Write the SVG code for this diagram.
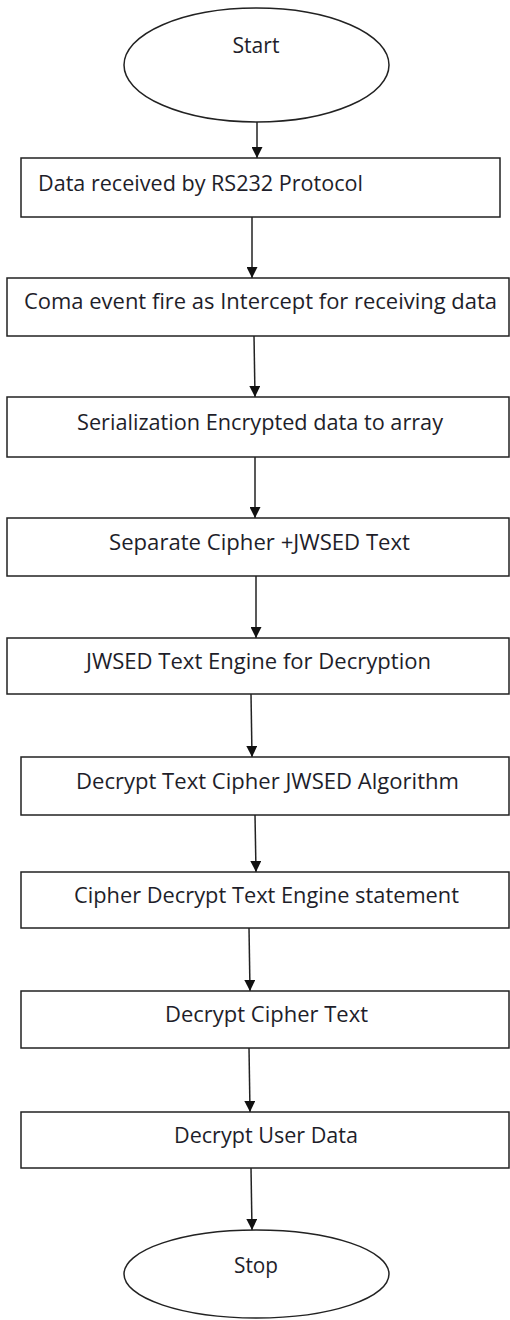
<svg xmlns="http://www.w3.org/2000/svg" width="510" height="1320" viewBox="0 0 510 1320">
<style>
.n{fill:#fff;stroke:#222;stroke-width:1.5}
.t{font-family:"Open Sans","Liberation Sans",sans-serif;font-size:21px;fill:#1e1e2a}
.c{stroke:#222;stroke-width:1.5;fill:none;marker-end:url(#ah)}
</style>
<defs>
<marker id="ah" viewBox="0 0 10 10" refX="10" refY="5" markerWidth="11" markerHeight="11" markerUnits="userSpaceOnUse" orient="auto">
<path d="M0,0 L10,5 L0,10 z" fill="#111"/>
</marker>
</defs>
<rect width="510" height="1320" fill="#fff"/>
<g id="connectors">
<line class="c" x1="257" y1="122" x2="257" y2="158"/>
<line class="c" x1="252" y1="217" x2="252" y2="278"/>
<line class="c" x1="254" y1="336" x2="255" y2="397"/>
<line class="c" x1="255" y1="457" x2="255" y2="518"/>
<line class="c" x1="256" y1="576" x2="256" y2="638"/>
<line class="c" x1="251" y1="694" x2="252" y2="757"/>
<line class="c" x1="255" y1="815" x2="256" y2="872"/>
<line class="c" x1="249" y1="928" x2="250" y2="991"/>
<line class="c" x1="249" y1="1048" x2="250" y2="1112"/>
<line class="c" x1="251" y1="1168" x2="252" y2="1230"/>
</g>
<g id="start">
<ellipse class="n" cx="256.5" cy="65" rx="132.5" ry="57"/>
<text class="t" x="256" y="53" text-anchor="middle" textLength="47" lengthAdjust="spacingAndGlyphs">Start</text>
</g>
<g id="n1">
<rect class="n" x="21" y="158" width="479" height="59"/>
<text class="t" x="38" y="191" textLength="325" lengthAdjust="spacingAndGlyphs">Data received by RS232 Protocol</text>
</g>
<g id="n2">
<rect class="n" x="7" y="278" width="502" height="58"/>
<text class="t" x="24" y="309" textLength="473" lengthAdjust="spacingAndGlyphs">Coma event fire as Intercept for receiving data</text>
</g>
<g id="n3">
<rect class="n" x="7" y="397" width="502" height="60"/>
<text class="t" x="77" y="430" textLength="366" lengthAdjust="spacingAndGlyphs">Serialization Encrypted data to array</text>
</g>
<g id="n4">
<rect class="n" x="7" y="518" width="502" height="58"/>
<text class="t" x="109" y="550" textLength="301" lengthAdjust="spacingAndGlyphs">Separate Cipher +JWSED Text</text>
</g>
<g id="n5">
<rect class="n" x="7" y="638" width="502" height="56"/>
<text class="t" x="86" y="669" textLength="345" lengthAdjust="spacingAndGlyphs">JWSED Text Engine for Decryption</text>
</g>
<g id="n6">
<rect class="n" x="21" y="757" width="488" height="58"/>
<text class="t" x="76" y="789" textLength="383" lengthAdjust="spacingAndGlyphs">Decrypt Text Cipher JWSED Algorithm</text>
</g>
<g id="n7">
<rect class="n" x="21" y="872" width="488" height="56"/>
<text class="t" x="74" y="903" textLength="385" lengthAdjust="spacingAndGlyphs">Cipher Decrypt Text Engine statement</text>
</g>
<g id="n8">
<rect class="n" x="21" y="991" width="488" height="57"/>
<text class="t" x="165" y="1022" textLength="203" lengthAdjust="spacingAndGlyphs">Decrypt Cipher Text</text>
</g>
<g id="n9">
<rect class="n" x="21" y="1112" width="488" height="56"/>
<text class="t" x="174" y="1143" textLength="184" lengthAdjust="spacingAndGlyphs">Decrypt User Data</text>
</g>
<g id="stop">
<ellipse class="n" cx="256.5" cy="1274" rx="132.5" ry="44"/>
<text class="t" x="234" y="1273" textLength="44" lengthAdjust="spacingAndGlyphs">Stop</text>
</g>
</svg>
